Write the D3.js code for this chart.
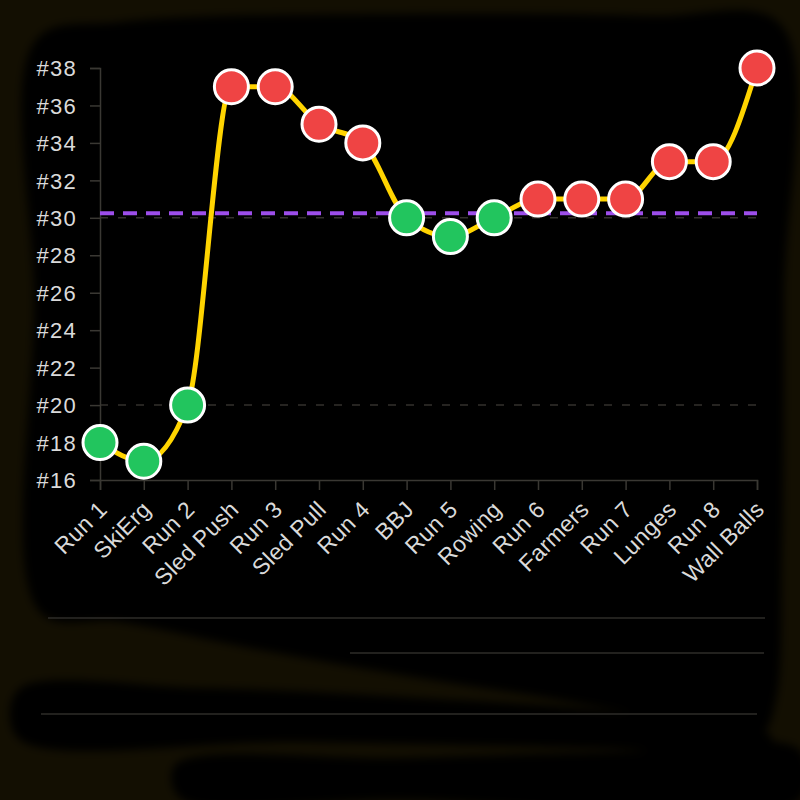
<!DOCTYPE html>
<html>
<head>
<meta charset="utf-8">
<script src="https://cdn.jsdelivr.net/npm/d3@7"></script>
<style>
  html, body { margin: 0; padding: 0; background: #130f02; }
  svg { display: block; }
</style>
</head>
<body>
<div class="canvas"></div>
<script>
// stations in race order
const stations = ["Run 1", "SkiErg", "Run 2", "Sled Push", "Run 3", "Sled Pull", "Run 4", "BBJ",
  "Run 5", "Rowing", "Run 6", "Farmers", "Run 7", "Lunges", "Run 8", "Wall Balls"];
// rank at each station
const ranks = [18, 17, 20, 37, 37, 35, 34, 30, 29, 30, 31, 31, 31, 33, 33, 38];
const rankTicks = [16, 18, 20, 22, 24, 26, 28, 30, 32, 34, 36, 38];
const markerRanks = [20, 30];

const dims = { width: 800, height: 800 };
const plot = { left: 100, right: 757, top: 68, bottom: 480 };

const svg = d3.select(".canvas")
  .append("svg")
  .attr("width", dims.width)
  .attr("height", dims.height);

// brushy background
const defs = svg.append("defs");
defs.append("filter").attr("id", "soft")
  .attr("x", "-10%").attr("y", "-10%").attr("width", "120%").attr("height", "120%")
  .append("feGaussianBlur").attr("stdDeviation", 4);

svg.append("rect")
  .attr("width", dims.width).attr("height", dims.height)
  .attr("fill", "#130f02");

const bg = svg.append("g").attr("filter", "url(#soft)").attr("fill", "#050402");
const blob = d3.line().curve(d3.curveCatmullRomClosed);
bg.append("path").attr("d", blob([
  [36, 40], [120, 22], [420, 14], [650, 16], [780, 24], [784, 300], [782, 560],
  [776, 700], [760, 735], [680, 722], [560, 700], [420, 678], [260, 650], [120, 622], [40, 612], [34, 300]
]));
bg.append("path").attr("d", blob([
  [18, 690], [200, 688], [420, 698], [620, 712], [770, 735], [770, 752], [600, 748], [300, 742], [18, 738]
]));
bg.append("path").attr("d", blob([
  [175, 765], [400, 758], [620, 752], [800, 750], [800, 800], [400, 800], [180, 798]
]));

// bottom separator lines
const sep = svg.append("g").attr("stroke", "#2e2c28").attr("stroke-width", 1.5);
sep.append("line").attr("x1", 48).attr("x2", 765).attr("y1", 618).attr("y2", 618);
sep.append("line").attr("x1", 350).attr("x2", 764).attr("y1", 653).attr("y2", 653);
sep.append("line").attr("x1", 41).attr("x2", 757).attr("y1", 714).attr("y2", 714);

// scales
const x = d3.scalePoint().domain(stations).range([plot.left, plot.right]);
const y = d3.scaleLinear().domain([16, 38]).range([plot.bottom, plot.top]);

const graph = svg.append("g");

// reference rank gridlines
graph.selectAll("line.grid")
  .data(markerRanks)
  .enter().append("line")
  .attr("class", "grid")
  .attr("x1", plot.left).attr("x2", plot.right)
  .attr("y1", d => y(d)).attr("y2", d => y(d))
  .attr("stroke", "#33312c")
  .attr("stroke-width", 1.5)
  .attr("stroke-dasharray", "8,10");

// axes
const yAxis = d3.axisLeft(y)
  .tickValues(rankTicks)
  .tickFormat(d => "#" + d)
  .tickSize(10)
  .tickPadding(13);

const xAxis = d3.axisBottom(x).tickSize(10);

const yG = graph.append("g")
  .attr("transform", `translate(${plot.left},0)`)
  .call(yAxis);

const xG = graph.append("g")
  .attr("transform", `translate(0,${plot.bottom})`)
  .call(xAxis);

[yG, xG].forEach(g => {
  g.select(".domain").attr("stroke", "#3a3833").attr("stroke-width", 1.5);
  g.selectAll(".tick line").attr("stroke", "#3a3833").attr("stroke-width", 1.5);
  g.selectAll("text")
    .attr("fill", "#dadada")
    .attr("font-family", "Liberation Sans, Arial, sans-serif");
});

yG.selectAll("text")
  .attr("font-size", 22)
  .attr("letter-spacing", 1.3)
  .attr("dy", "0.35em");

xG.selectAll("text")
  .attr("font-size", 23)
  .attr("letter-spacing", 0.3)
  .attr("text-anchor", "end")
  .attr("y", 0).attr("dy", 0)
  .attr("transform", "translate(8,31) rotate(-45)");

// average rank line
const avg = d3.mean(ranks);
graph.append("line")
  .attr("x1", plot.left).attr("x2", plot.right)
  .attr("y1", y(avg)).attr("y2", y(avg))
  .attr("stroke", "#9d4eea")
  .attr("stroke-width", 4)
  .attr("stroke-dasharray", "14,9");

// rank line
const line = d3.line()
  .x((d, i) => x(stations[i]))
  .y(d => y(d))
  .curve(d3.curveMonotoneX);

graph.append("path")
  .datum(ranks)
  .attr("d", line)
  .attr("fill", "none")
  .attr("stroke", "#ffd400")
  .attr("stroke-width", 5);

// points: green below average, red above
graph.selectAll("circle")
  .data(ranks)
  .enter().append("circle")
  .attr("cx", (d, i) => x(stations[i]))
  .attr("cy", d => y(d))
  .attr("r", 17)
  .attr("fill", d => d < avg ? "#22c55e" : "#ef4444")
  .attr("stroke", "#ffffff")
  .attr("stroke-width", 3);
</script>
</body>
</html>
